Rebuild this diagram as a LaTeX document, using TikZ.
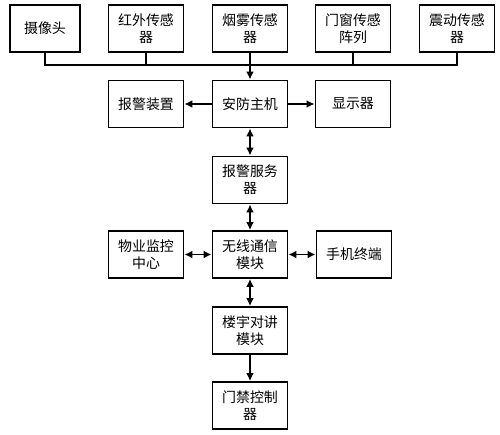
\documentclass[tikz,border=0pt]{standalone}
\usepackage{fontspec}
\setmainfont{Noto Sans CJK SC}
\usetikzlibrary{arrows.meta}
\begin{document}
\begin{tikzpicture}[x=1bp,y=-1bp,
  box/.style={draw, line width=1.9bp, minimum width=75bp, minimum height=47bp, align=center, inner sep=1bp, font=\fontsize{14}{17}\selectfont},
  conn/.style={line width=1.9bp},
  arr/.style={conn, -{Latex[length=8bp,width=8bp]}},
  darr/.style={conn, {Latex[length=8bp,width=8bp]}-{Latex[length=8bp,width=8bp]}}]
\useasboundingbox (0,0) rectangle (500,435);
\node[box, minimum width=70bp] (cam) at (45,28.5) {摄像头};
\node[box] (ir) at (146,28.5) {红外传感\\器};
\node[box] (smoke) at (250,28.5) {烟雾传感\\器};
\node[box] (door) at (353,28.5) {门窗传感\\阵列};
\node[box] (vib) at (457,28.5) {震动传感\\器};
\node[box] (alarm) at (146,104) {报警装置};
\node[box] (host) at (250,104) {安防主机};
\node[box] (disp) at (353,104) {显示器};
\node[box] (server) at (250,180) {报警服务\\器};
\node[box] (wless) at (250,254.5) {无线通信\\模块};
\node[box] (prop) at (146,254.5) {物业监控\\中心};
\node[box] (phone) at (354,254.5) {手机终端};
\node[box] (inter) at (250,330.5) {楼宇对讲\\模块};
\node[box] (gate) at (250,405.5) {门禁控制\\器};
\coordinate (busL) at (45,65);
\coordinate (busR) at (457,65);
\coordinate (busM) at (250,65);
\draw[conn] (cam.south) |- (busL) -- (busR) -| (vib.south);
\draw[conn] (ir.south) -- (ir.south |- busM);
\draw[conn] (door.south) -- (door.south |- busM);
\draw[conn] (smoke.south) -- (busM);
\draw[arr] (busM) -- (host.north);
\draw[arr] (host) -- (alarm);
\draw[arr] (host) -- (disp);
\draw[darr] (host) -- (server);
\draw[darr] (server) -- (wless);
\draw[darr] (wless) -- (prop);
\draw[darr] (wless) -- (phone);
\draw[darr] (wless) -- (inter);
\draw[arr] (inter) -- (gate);
\end{tikzpicture}
\end{document}
